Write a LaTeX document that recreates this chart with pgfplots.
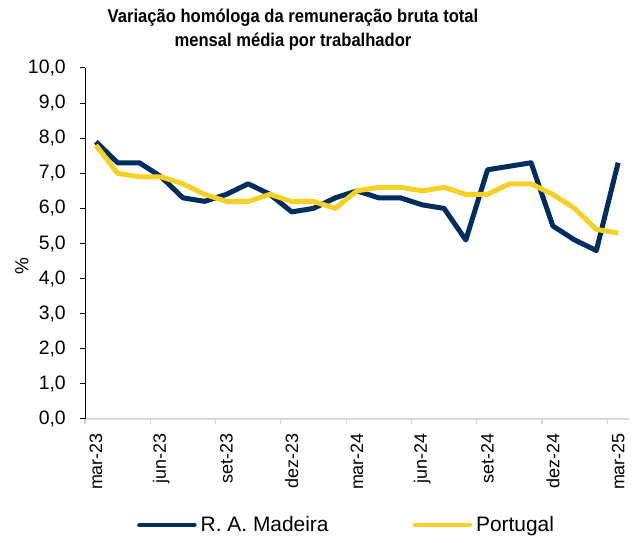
\documentclass[border=0pt]{standalone}
\usepackage{fontspec}
\setmainfont{Liberation Sans}
\newfontfamily\titlefont[FakeStretch=0.9]{Liberation Sans}
\usepackage{pgfplots}
\pgfplotsset{compat=1.18}
\definecolor{navy}{RGB}{0,45,95}
\definecolor{gold}{RGB}{245,208,38}
\definecolor{axgray}{RGB}{217,217,217}
\begin{document}
\begin{tikzpicture}[x=1bp,y=1bp]
\path[use as bounding box] (0,0) rectangle (641,543);
\node[font=\titlefont\fontsize{18.5}{24}\selectfont\bfseries, align=center] at (293,513) {Variação homóloga da remuneração bruta total\\mensal média por trabalhador};
\begin{axis}[
  at={(85bp,124bp)}, anchor=south west,
  scale only axis, width=544bp, height=351bp,
  xmin=-0.5, xmax=24.5, ymin=0, ymax=10,
  clip=false,
  axis x line*=bottom, axis y line*=left,
  x axis line style={draw=axgray, line width=1.2bp, -},
  y axis line style={draw=black, line width=1bp, -},
  tick align=outside, major tick length=5bp,
  ytick={0,1,...,10},
  ytick style={draw=black, line width=1bp},
  yticklabel style={inner sep=0pt, xshift=-14bp, font=\fontsize{19.5}{21}\selectfont, /pgf/number format/.cd, fixed, fixed zerofill, precision=1, use comma, assume math mode=true},
  xticklabel style={font=\fontsize{18}{20}\selectfont},
  xtick={-0.5,2.5,...,23.5},
  xticklabels={},
  xtick style={draw=axgray, line width=1.2bp},
  extra x ticks={0,3,...,24},
  extra x tick labels={mar-23,jun-23,set-23,dez-23,mar-24,jun-24,set-24,dez-24,mar-25},
  extra x tick style={major tick length=0pt, xticklabel style={rotate=90, anchor=east, inner sep=0pt}},
  xticklabel shift=14bp,
  ylabel={\%},
  every axis y label/.style={at={(axis description cs:-0.116,0.437)}, rotate=90, anchor=center, font=\fontsize{19}{20}\selectfont},
  legend columns=2,
  legend style={at={(axis description cs:0.0956,-0.302)}, anchor=west, draw=none, fill=none, inner sep=0pt,
    font=\fontsize{21}{23}\selectfont,
    /tikz/every odd column/.append style={column sep=2bp},
    /tikz/every even column/.append style={column sep=82bp}},
  legend image code/.code={\draw[#1, line width=4.5bp, line cap=round] (0bp,0bp) -- (55bp,0bp);},
]
\addplot[navy, line width=5bp, line join=round] coordinates {
(0,7.9) (1,7.3) (2,7.3) (3,6.9) (4,6.3) (5,6.2) (6,6.4) (7,6.7) (8,6.4) (9,5.9) (10,6.0) (11,6.3) (12,6.5)
(13,6.3) (14,6.3) (15,6.1) (16,6.0) (17,5.1) (18,7.1) (19,7.2) (20,7.3) (21,5.5) (22,5.1) (23,4.8) (24,7.3)};
\addlegendentry{R. A. Madeira}
\addplot[gold, line width=5bp, line join=round] coordinates {
(0,7.8) (1,7.0) (2,6.9) (3,6.9) (4,6.7) (5,6.4) (6,6.2) (7,6.2) (8,6.4) (9,6.2) (10,6.2) (11,6.0) (12,6.5)
(13,6.6) (14,6.6) (15,6.5) (16,6.6) (17,6.4) (18,6.4) (19,6.7) (20,6.7) (21,6.4) (22,6.0) (23,5.4) (24,5.3)};
\addlegendentry{Portugal}
\end{axis}
\end{tikzpicture}
\end{document}
